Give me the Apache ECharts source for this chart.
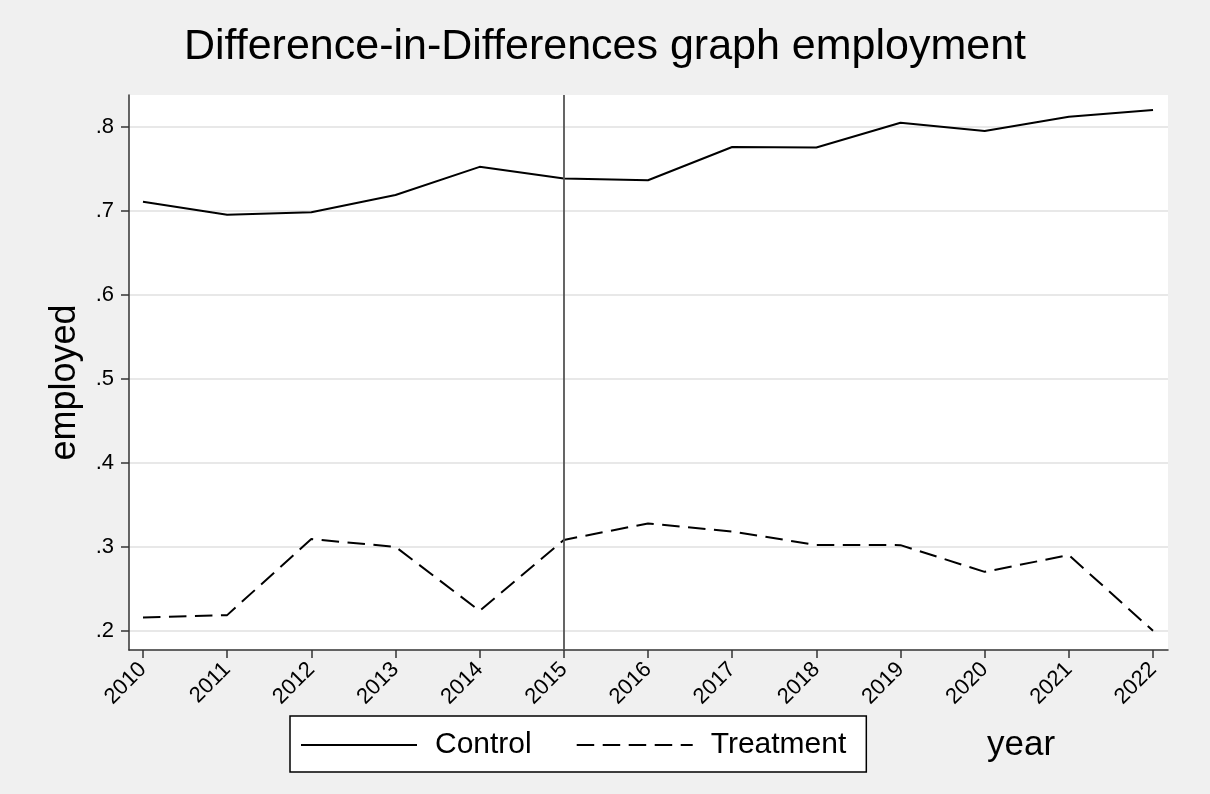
<!DOCTYPE html>
<html>
<head>
<meta charset="utf-8">
<script src="https://cdn.jsdelivr.net/npm/echarts@6/dist/echarts.min.js"></script>
<style>
html,body{margin:0;padding:0;background:#f0f0f0;}
#chart{width:1210px;height:794px;}
</style>
</head>
<body>
<div id="chart"></div>
<script>
const years = [2010, 2011, 2012, 2013, 2014, 2015, 2016, 2017, 2018, 2019, 2020, 2021, 2022];
const control = [0.7105, 0.695, 0.698, 0.7185, 0.752, 0.738, 0.736, 0.7756, 0.775, 0.8045, 0.7946, 0.8117, 0.8196];
const treatment = [0.2157, 0.2185, 0.309, 0.2998, 0.2236, 0.308, 0.3276, 0.318, 0.302, 0.3018, 0.27, 0.29, 0.1998];
const yTicks = [0.2, 0.3, 0.4, 0.5, 0.6, 0.7, 0.8];
const treatYear = 2015;

const font = 'Liberation Sans, Arial, sans-serif';
const chart = echarts.init(document.getElementById('chart'), null, {renderer: 'canvas'});

function pairs(vals) { return years.map((y, i) => [y, vals[i]]); }

chart.setOption({
  backgroundColor: '#f0f0f0',
  animation: false,
  title: {
    text: 'Difference-in-Differences graph employment',
    left: 'center', top: 21,
    textStyle: {fontFamily: font, fontSize: 43, fontWeight: 'normal', color: '#000'}
  },
  grid: {
    left: 129, top: 95, right: 42, bottom: 144,
    show: true, backgroundColor: '#ffffff', borderWidth: 0
  },
  xAxis: {
    type: 'value',
    min: 2009.834, max: 2022.178,
    axisLine: {show: true, lineStyle: {color: '#333', width: 1.5}},
    axisTick: {show: true, length: 8, lineStyle: {color: '#333', width: 1.5}, customValues: years},
    axisLabel: {
      customValues: years, rotate: 45, fontFamily: font, fontSize: 22, color: '#000', margin: 16,
      formatter: v => String(Math.round(v))
    },
    splitLine: {show: false}
  },
  yAxis: {
    type: 'value',
    min: 0.177, max: 0.8375,
    name: 'employed', nameLocation: 'middle', nameGap: 46,
    nameTextStyle: {fontFamily: font, fontSize: 36, color: '#000', padding: [0, 20, 0, 0]},
    axisLine: {show: true, lineStyle: {color: '#333', width: 1.5}},
    axisTick: {show: true, length: 8, lineStyle: {color: '#333', width: 1.5}, customValues: yTicks},
    axisLabel: {
      customValues: yTicks, fontFamily: font, fontSize: 22, color: '#000', margin: 15,
      formatter: v => v.toFixed(1).replace(/^0/, '')
    },
    splitLine: {show: true, lineStyle: {color: '#e8e8e8', width: 2}}
  },
  legend: {
    left: 290, top: 716,
    padding: [14, 20, 12, 10],
    backgroundColor: '#fff', borderColor: '#000', borderWidth: 1.5, borderRadius: 0,
    itemWidth: 116, itemHeight: 20, itemGap: 44,
    itemStyle: {opacity: 0},
    textStyle: {fontFamily: font, fontSize: 30, color: '#000', padding: [0, 0, 0, 13]},
    data: ['Control', 'Treatment']
  },
  graphic: [{
    type: 'text', x: 1021, y: 745,
    style: {text: 'year', fontFamily: font, fontSize: 35, fill: '#000', textAlign: 'center', textVerticalAlign: 'middle'}
  }],
  series: [
    {
      name: 'Control', type: 'line', data: pairs(control),
      symbol: 'none', lineStyle: {color: '#000', width: 2, type: 'solid'},
      itemStyle: {color: '#000'},
      markLine: {
        silent: true, symbol: 'none', label: {show: false},
        lineStyle: {color: '#555', width: 1.8, type: 'solid'},
        data: [{xAxis: treatYear}]
      }
    },
    {
      name: 'Treatment', type: 'line', data: pairs(treatment),
      symbol: 'none', lineStyle: {color: '#000', width: 2, type: [17.5, 8.5]},
      itemStyle: {color: '#000'}
    }
  ]
});
</script>
</body>
</html>
